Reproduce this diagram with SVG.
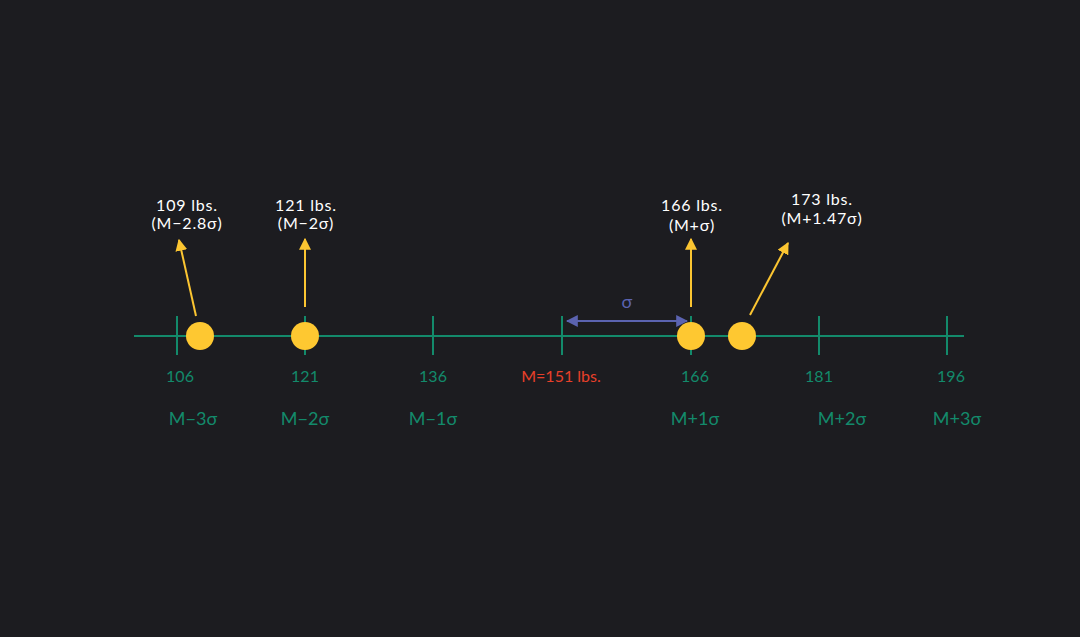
<svg xmlns="http://www.w3.org/2000/svg" width="1080" height="637" viewBox="0 0 1080 637">
<defs>
<marker id="ay" viewBox="0 0 10 10" refX="9" refY="5" markerWidth="6" markerHeight="6" orient="auto"><path d="M0,0L10,5L0,10z" fill="#fbc531"/></marker>
<marker id="ab" viewBox="0 0 10 10" refX="9" refY="5" markerWidth="6" markerHeight="6" orient="auto-start-reverse"><path d="M0,0L10,5L0,10z" fill="#5b63b0"/></marker>
<style>
text{font-family:"Lato","Noto Sans",sans-serif;text-anchor:middle}
.w{fill:#ffffff;font-size:16px;letter-spacing:0.8px}
.n{fill:#138a6b;font-size:16px}
.m{fill:#138a6b;font-size:18px}
.t{stroke:#138a6b;stroke-width:2}
.y{stroke:#fbc531;stroke-width:2;marker-end:url(#ay)}
.c{fill:#fec831}
</style>
</defs>
<rect width="1080" height="637" fill="#1c1c20"/>
<g id="axis">
<line x1="134" y1="336" x2="964" y2="336" class="t"/>
<line x1="177" y1="316" x2="177" y2="355" class="t"/>
<line x1="305" y1="316" x2="305" y2="355" class="t"/>
<line x1="433" y1="316" x2="433" y2="355" class="t"/>
<line x1="562" y1="316" x2="562" y2="355" class="t"/>
<line x1="691" y1="316" x2="691" y2="355" class="t"/>
<line x1="819" y1="316" x2="819" y2="355" class="t"/>
<line x1="947" y1="316" x2="947" y2="355" class="t"/>
</g>
<g id="connectors">
<line x1="196" y1="316" x2="179" y2="240" class="y"/>
<line x1="305" y1="307" x2="305" y2="239" class="y"/>
<line x1="691" y1="307" x2="691" y2="239" class="y"/>
<line x1="750" y1="315" x2="788" y2="243" class="y"/>
<line x1="567" y1="321" x2="687" y2="321" stroke="#5b63b0" stroke-width="2" marker-start="url(#ab)" marker-end="url(#ab)"/>
</g>
<g id="points">
<circle cx="200" cy="336" r="14" class="c"/>
<circle cx="305" cy="336" r="14" class="c"/>
<circle cx="691" cy="336" r="14" class="c"/>
<circle cx="742" cy="336" r="14" class="c"/>
</g>
<g id="labels">
<text x="187" y="211" class="w">109 lbs.</text><text x="187" y="229" class="w">(M−2.8σ)</text>
<text x="306" y="211" class="w">121 lbs.</text><text x="306" y="229" class="w">(M−2σ)</text>
<text x="692" y="211" class="w">166 lbs.</text><text x="692" y="231" class="w">(M+σ)</text>
<text x="822" y="205" class="w">173 lbs.</text><text x="822" y="224" class="w">(M+1.47σ)</text>
<text x="627" y="308" fill="#5b63b0" font-size="18px">σ</text>
</g>
<g id="ticklabels">
<text x="180" y="382" class="n">106</text>
<text x="305" y="382" class="n">121</text>
<text x="433" y="382" class="n">136</text>
<text x="561" y="382" fill="#e8402a" font-size="16px">M=151 lbs.</text>
<text x="695" y="382" class="n">166</text>
<text x="819" y="382" class="n">181</text>
<text x="951" y="382" class="n">196</text>
<text x="193" y="425" class="m">M−3σ</text>
<text x="305" y="425" class="m">M−2σ</text>
<text x="433" y="425" class="m">M−1σ</text>
<text x="695" y="425" class="m">M+1σ</text>
<text x="842" y="425" class="m">M+2σ</text>
<text x="957" y="425" class="m">M+3σ</text>
</g>
</svg>
